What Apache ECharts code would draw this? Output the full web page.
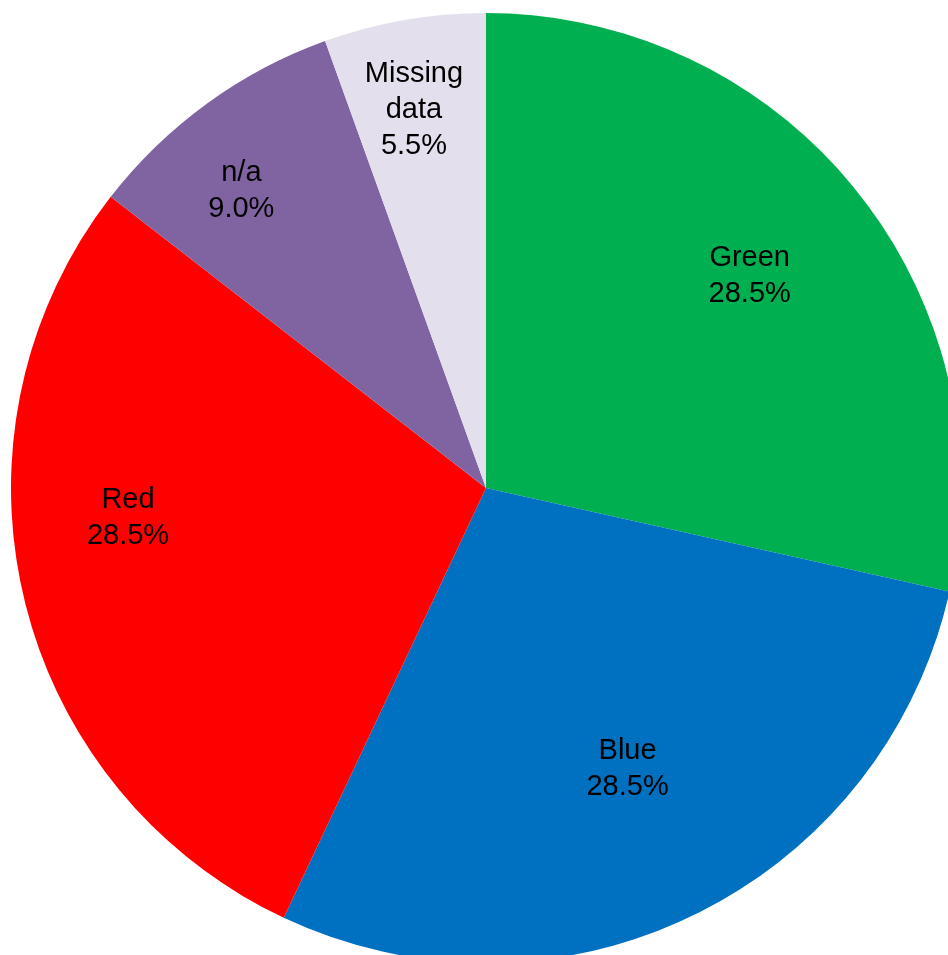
<!DOCTYPE html>
<html><head><meta charset="utf-8">
<script src="https://cdn.jsdelivr.net/npm/echarts@6/dist/echarts.min.js"></script>
<style>html,body{margin:0;padding:0;background:#fff}#c{width:948px;height:955px}</style>
</head><body><div id="c"></div>
<script>
const categories = ['Green', 'Blue', 'Red', 'n/a', 'Missing data'];
const labelNames = ['Green', 'Blue', 'Red', 'n/a', 'Missing\ndata'];
const values = [28.5, 28.5, 28.5, 9.0, 5.5];
const colors = ['#00B050', '#0070C0', '#FF0000', '#8064A2', '#E4DFEC'];

// label placement (style config, not data)
const labelRadii = [340, 312, 359, 386, 387];
const labelOffsets = [[-4, 2], [3, -2], [-6, -55], [-16, 18], [-5, 6]];

const R = 475;
const center = [486, 488];

const series = [{
  type: 'pie', center: center, radius: [0, R], startAngle: 90, clockwise: true,
  silent: true, label: { show: false }, labelLine: { show: false },
  itemStyle: { borderWidth: 0 },
  data: categories.map((c, i) => ({ name: c, value: values[i], itemStyle: { color: colors[i] } }))
}];

categories.forEach((cat, k) => {
  series.push({
    type: 'pie', center: center, radius: [2 * labelRadii[k] - R, R], startAngle: 90, clockwise: true,
    silent: true, labelLine: { show: false }, itemStyle: { color: 'rgba(0,0,0,0)', borderWidth: 0 },
    data: categories.map((c, i) => ({
      name: c, value: values[i],
      label: {
        show: i === k, position: 'inside', color: '#000', offset: labelOffsets[i],
        fontFamily: 'Liberation Sans, Arial, sans-serif', fontSize: 29, lineHeight: 36,
        formatter: () => labelNames[i] + '\n' + values[i].toFixed(1) + '%'
      }
    }))
  });
});

const chart = echarts.init(document.getElementById('c'), null, { renderer: 'canvas' });
chart.setOption({ animation: false, series: series });
</script></body></html>
